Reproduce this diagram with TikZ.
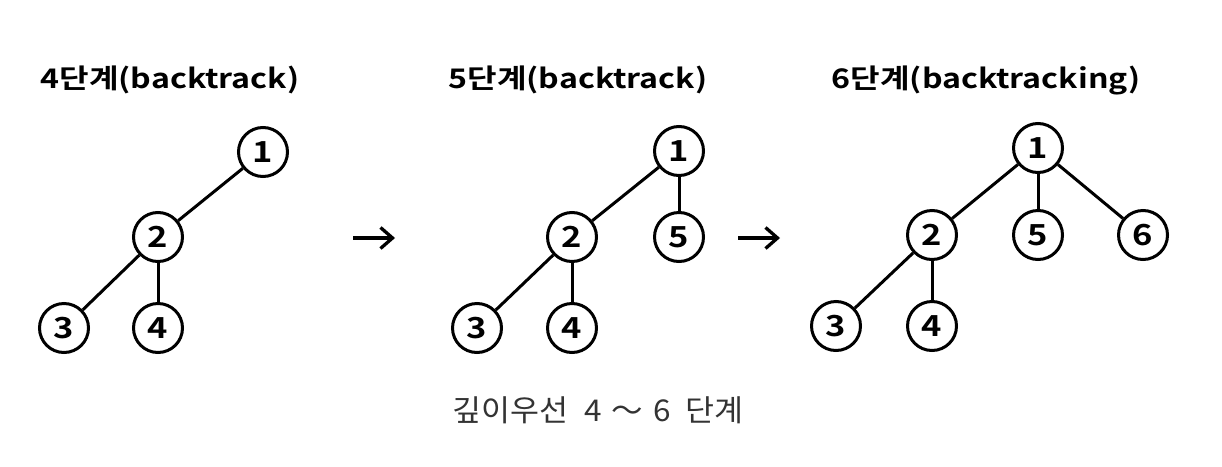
\documentclass[tikz,border=0pt]{standalone}
\usepackage{fontspec}
\setmainfont{Noto Sans CJK KR}
\newfontfamily\krb[FakeStretch=1.19]{Noto Sans CJK KR Bold}
\newfontfamily\krcap[FakeStretch=1.05]{Noto Sans CJK KR}
\usetikzlibrary{arrows.meta}
\begin{document}
\begin{tikzpicture}[x=1pt,y=-1pt,
  vtx/.style={circle,draw=black,line width=3pt,fill=white,minimum size=49pt,inner sep=0pt,font=\krb\fontsize{29}{29}\selectfont},
  edge/.style={line width=3pt},
  ttl/.style={font=\krb\fontsize{27}{27}\selectfont,inner sep=0pt},
  step arrow/.style={line width=3.5pt,-{Straight Barb[length=12pt,width=21pt,line width=3.3pt]}}]
\useasboundingbox (0,0) rectangle (1222,466);
% panel 1
\node[ttl] (t1) at (170,80) {4단계(backtrack)};
\node[vtx] (a1) at (263,152) {1};
\node[vtx] (a2) at (158,237) {2};
\node[vtx] (a3) at (64,328) {3};
\node[vtx] (a4) at (158,328) {4};
\draw[edge] (a1) -- (a2);
\draw[edge] (a2) -- (a3);
\draw[edge] (a2) -- (a4);
% arrow 1
\coordinate (p1s) at (353,238);
\coordinate (p1e) at (395,238);
\draw[step arrow] (p1s) -- (p1e);
% panel 2
\node[ttl] (t2) at (578,80) {5단계(backtrack)};
\node[vtx] (b1) at (679,151) {1};
\node[vtx] (b5) at (679,237) {5};
\node[vtx] (b2) at (572,237) {2};
\node[vtx] (b3) at (477,328) {3};
\node[vtx] (b4) at (572,328) {4};
\draw[edge] (b1) -- (b2);
\draw[edge] (b1) -- (b5);
\draw[edge] (b2) -- (b3);
\draw[edge] (b2) -- (b4);
% arrow 2
\coordinate (p2s) at (738,238);
\coordinate (p2e) at (780,238);
\draw[step arrow] (p2s) -- (p2e);
% panel 3
\node[ttl] (t3) at (986,80) {6단계(backtracking)};
\node[vtx] (c1) at (1038,148) {1};
\node[vtx] (c2) at (932,235) {2};
\node[vtx] (c5) at (1038,235) {5};
\node[vtx] (c6) at (1143,235) {6};
\node[vtx] (c3) at (836,326) {3};
\node[vtx] (c4) at (932,326) {4};
\draw[edge] (c1) -- (c2);
\draw[edge] (c1) -- (c5);
\draw[edge] (c1) -- (c6);
\draw[edge] (c2) -- (c3);
\draw[edge] (c2) -- (c4);
% caption
\node[font=\krcap\fontsize{30}{30}\selectfont,text=black!80,inner sep=0pt,anchor=west] (cap) at (452,410) {깊이우선\hspace{16pt}4\hspace{10pt}～\hspace{10pt}6\hspace{15pt}단계};
\end{tikzpicture}
\end{document}
